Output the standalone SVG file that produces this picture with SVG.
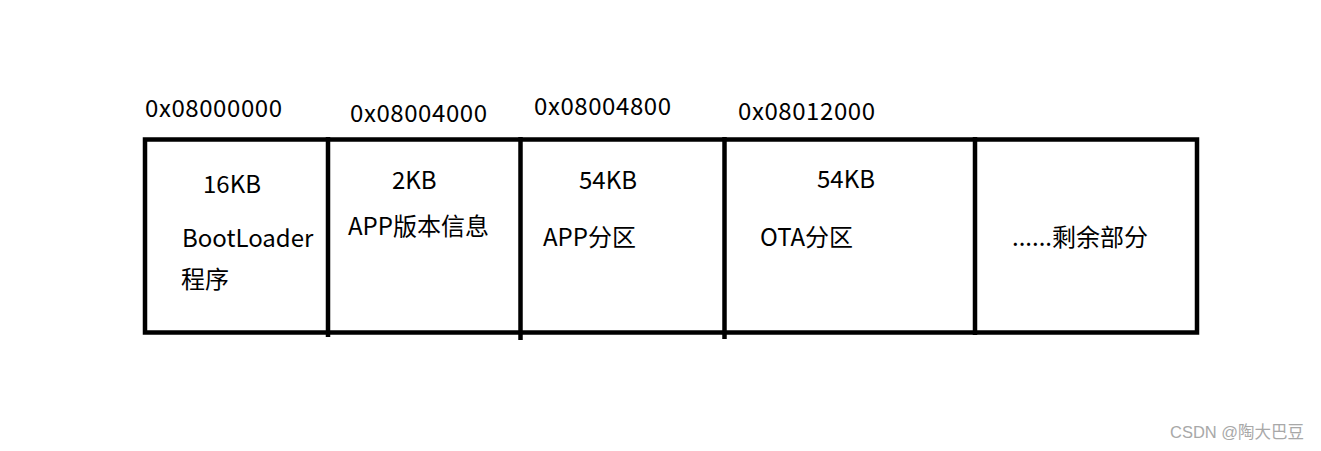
<svg xmlns="http://www.w3.org/2000/svg" width="1321" height="451" viewBox="0 0 1321 451">
<style>
.t{font-family:"Microsoft YaHei","Noto Sans CJK SC","Noto Sans",sans-serif;font-size:24px;fill:#000}
.b{fill:none;stroke:#000;stroke-width:4.5}
.d{stroke:#000;stroke-width:4.5;stroke-linecap:butt}
.w{font-family:"Liberation Sans","Noto Sans CJK SC",sans-serif;font-size:16.5px;fill:#a8a8a8}
</style>
<rect width="1321" height="451" fill="#fff"/>
<g id="addresses">
<text class="t" x="145" y="117" textLength="137" lengthAdjust="spacing">0x08000000</text>
<text class="t" x="350" y="122" textLength="137" lengthAdjust="spacing">0x08004000</text>
<text class="t" x="534" y="115" textLength="137" lengthAdjust="spacing">0x08004800</text>
<text class="t" x="738" y="120" textLength="137" lengthAdjust="spacing">0x08012000</text>
</g>
<rect class="b" x="145" y="139.5" width="1052" height="193"/>
<g id="bootloader">
<line class="d" x1="328" y1="137" x2="328" y2="337"/>
<text class="t" x="203" y="193">16KB</text>
<text class="t" x="182" y="247">BootLoader</text>
<text class="t" x="181" y="288">程序</text>
</g>
<g id="app-version">
<line class="d" x1="520.5" y1="137" x2="520.5" y2="340"/>
<text class="t" x="392" y="189">2KB</text>
<text class="t" x="348" y="235">APP版本信息</text>
</g>
<g id="app-partition">
<line class="d" x1="724.5" y1="137" x2="724.5" y2="339"/>
<text class="t" x="579" y="189">54KB</text>
<text class="t" x="543" y="246">APP分区</text>
</g>
<g id="ota-partition">
<line class="d" x1="975" y1="137" x2="975" y2="335"/>
<text class="t" x="817" y="188">54KB</text>
<text class="t" x="760" y="246">OTA分区</text>
</g>
<g id="remaining">
<text class="t" x="1012" y="246">......剩余部分</text>
</g>
<g id="connectors"/>
<text class="w" x="1170" y="438">CSDN @陶大巴豆</text>
</svg>
